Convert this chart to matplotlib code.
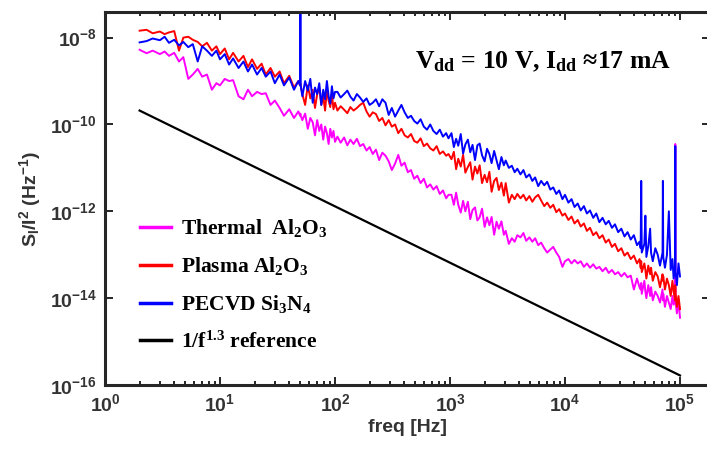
import numpy as np
import matplotlib
matplotlib.use('Agg')
import matplotlib.pyplot as plt
from matplotlib.ticker import LogLocator, NullLocator, NullFormatter

plt.rcParams['mathtext.default'] = 'regular'

# frequency grid [Hz]
freq = [2, 2.3, 2.6, 3, 3.3, 3.6, 4, 4.4, 4.8, 5.3, 5.8, 6.4, 7, 7.7, 8.5, 9.3,
        10, 11, 12, 13, 14.5, 16, 17.5, 19, 21, 23, 25, 27.5, 30, 33, 36, 40, 44, 48,
        49.7, 50, 50.3, 52, 55, 58, 61, 64, 67, 70, 73, 76, 79, 82, 85, 88, 91, 94, 97, 100,
        105, 112, 120, 128, 136, 145, 155, 165, 176, 188, 200, 213, 227, 242, 258, 275, 293, 312,
        333, 355, 378, 403, 430, 458, 488, 520, 555, 592, 631, 673, 717, 765, 815, 869, 926, 970,
        1030, 1080, 1130, 1180, 1240, 1300, 1360, 1430, 1500, 1570, 1650, 1730, 1810, 1900,
        2000, 2100, 2200, 2300, 2420, 2540, 2660, 2800, 2940, 3050,
        3250, 3450, 3650, 3850, 4100, 4350, 4600, 4900, 5200, 5500, 5850, 6200, 6600, 7000,
        7450, 7900, 8400, 8900, 9500, 10000, 10700, 11400, 12100, 12900, 13700, 14600, 15500,
        16500, 17600, 18700, 19900, 21200, 22600, 24000, 25600, 27200, 29000, 30900, 32900,
        35000, 37300, 39700, 42300, 44500,
        45500, 46000, 46500, 49000, 50000, 51000, 53000, 55000, 56000, 58000, 61000, 64000,
        67000, 70500, 71000, 71500, 74000, 77000, 80000, 83000, 86000, 88000, 90500, 91000,
        91500, 94000, 97000, 100000]

# log10(S_I/I^2)
thermal_log = [
    -8.28, -8.36, -8.30, -8.38, -8.32, -8.42, -8.35, -8.55, -8.45, -8.95, -8.85, -8.72, -8.90, -8.85, -9.20, -9.05,
    -9.10, -8.95, -9.00, -8.98, -9.35, -9.42, -9.20, -9.35, -9.25, -9.30, -9.28, -9.55, -9.45, -9.62, -9.80, -9.65, -9.85, -9.70,
    -9.80, -9.75, -9.80, -9.90, -9.75, -10.10, -9.85, -9.95, -10.25, -9.90, -10.15, -10.00, -10.35, -10.05, -10.20, -10.45, -10.10, -10.30, -10.15, -10.40,
    -10.28, -10.42, -10.30, -10.48, -10.35, -10.45, -10.33, -10.50, -10.45, -10.60, -10.52, -10.68, -10.58, -10.82, -10.65, -10.72, -10.85, -11.05,
    -10.90, -10.70, -10.95, -10.88, -11.10, -11.05, -11.25, -11.18, -11.35, -11.25, -11.45, -11.38, -11.50, -11.42, -11.60, -11.52, -11.70, -11.62,
    -11.62, -11.85, -11.57, -11.85, -12.03, -11.76, -12.00, -11.78, -12.18, -11.97, -11.91, -12.21, -12.14, -11.94,
    -12.36, -12.14, -12.32, -12.13, -12.54, -12.24, -12.40, -12.23, -12.54, -12.45,
    -12.75, -12.62, -12.70, -12.55, -12.60, -12.50, -12.68, -12.60, -12.70, -12.62, -12.78, -12.72, -12.85, -12.95,
    -12.88, -12.82, -12.95, -13.05, -13.28, -13.15, -13.10, -13.20, -13.12, -13.20, -13.15, -13.28, -13.20,
    -13.30, -13.22, -13.32, -13.28, -13.38, -13.30, -13.42, -13.35, -13.45, -13.40, -13.50, -13.42,
    -13.52, -13.48, -13.80, -13.55, -13.75,
    -13.80, -13.65, -13.90, -13.60, -13.85, -14.00, -13.70, -13.95, -13.75, -14.05, -13.85, -13.95,
    -14.10, -13.80, -14.05, -13.90, -14.20, -13.95, -14.10, -14.25, -13.95, -14.15, -14.00, -10.45,
    -14.10, -14.35, -14.05, -14.45]

plasma_log = [
    -7.84, -7.82, -7.90, -7.86, -7.92, -7.88, -7.85, -8.30, -8.00, -7.98, -8.05, -8.10, -8.20, -8.12, -8.30, -8.20,
    -8.38, -8.25, -8.50, -8.35, -8.55, -8.42, -8.68, -8.50, -8.72, -8.60, -8.85, -8.70, -8.90, -8.78, -9.05, -8.88, -9.15, -9.00,
    -9.10, -9.05, -9.10, -9.30, -9.55, -9.10, -9.40, -9.20, -9.62, -9.30, -9.15, -9.55, -9.35, -9.68, -9.20, -9.45, -9.60, -9.30, -9.65, -9.50,
    -9.68, -9.58, -9.66, -9.74, -9.60, -9.68, -9.62, -9.55, -9.50, -9.70, -9.82, -9.72, -9.76, -9.92, -9.85, -10.02, -9.90, -10.05,
    -10.00, -10.20, -10.10, -10.25, -10.30, -10.22, -10.38, -10.42, -10.32, -10.50, -10.44, -10.55, -10.60, -10.50, -10.68, -10.62, -10.72, -10.68,
    -10.80, -10.63, -11.03, -10.79, -10.97, -10.70, -11.11, -10.98, -10.87, -11.27, -10.97, -11.13, -10.94, -11.35,
    -11.16, -11.33, -11.09, -11.55, -11.30, -11.23, -11.51, -11.34, -11.64, -11.35,
    -11.80, -11.62, -11.72, -11.60, -11.70, -11.62, -11.75, -11.65, -11.78, -11.68, -11.62, -11.75, -11.88, -11.80,
    -11.92, -11.85, -12.02, -11.95, -12.10, -12.05, -12.20, -12.12, -12.28, -12.20, -12.35, -12.28, -12.45,
    -12.38, -12.55, -12.48, -12.62, -12.55, -12.72, -12.65, -12.82, -12.75, -12.92, -12.85, -13.02,
    -12.95, -13.10, -13.02, -13.20, -13.10,
    -13.30, -13.15, -13.40, -13.20, -13.35, -13.55, -13.25, -13.45, -13.30, -13.60, -13.40, -13.50,
    -13.75, -13.45, -13.60, -13.50, -13.80, -13.55, -13.70, -13.95, -13.60, -13.85, -14.05, -13.70,
    -13.90, -14.20, -13.95, -14.25]

pecvd_log = [
    -8.11, -8.08, -8.02, -8.06, -7.98, -8.12, -8.05, -8.18, -8.10, -8.22, -8.15, -8.55, -8.20, -8.30, -8.42, -8.30,
    -8.50, -8.38, -8.62, -8.48, -8.70, -8.55, -8.78, -8.62, -8.85, -8.70, -8.90, -8.78, -9.05, -8.85, -9.10, -8.92, -9.20, -9.00,
    -9.10, -7.00, -9.10, -9.35, -9.00, -9.22, -8.95, -9.50, -9.15, -9.30, -9.05, -9.55, -9.20, -9.42, -9.00, -9.35, -9.52, -9.12, -9.40, -9.25,
    -9.25, -9.38, -9.30, -9.22, -9.36, -9.45, -9.30, -9.38, -9.48, -9.40, -9.55, -9.50, -9.42, -9.58, -9.42, -9.50, -9.78, -9.62,
    -9.82, -9.68, -9.55, -9.72, -9.85, -9.80, -9.92, -9.98, -9.88, -10.05, -10.12, -10.00, -10.15, -10.22, -10.12, -10.28, -10.20, -10.32,
    -10.20, -10.52, -10.33, -10.49, -10.22, -10.67, -10.46, -10.35, -10.64, -10.47, -10.82, -10.48, -10.44, -10.71,
    -10.85, -10.56, -10.68, -10.89, -10.61, -10.83, -11.03, -10.75, -10.94, -10.83,
    -11.00, -10.95, -11.10, -11.02, -11.15, -11.05, -11.22, -11.15, -11.30, -11.22, -11.42, -11.30, -11.40, -11.32,
    -11.50, -11.45, -11.60, -11.52, -11.72, -11.62, -11.80, -11.72, -11.90, -11.82, -11.98, -11.88, -12.05,
    -11.98, -12.15, -12.05, -12.25, -12.15, -12.30, -12.22, -12.38, -12.30, -12.48, -12.40, -12.58,
    -12.48, -12.65, -12.55, -12.78, -12.70,
    -12.85, -11.30, -12.95, -12.75, -12.10, -13.05, -12.80, -12.40, -12.95, -13.15, -12.85, -13.00,
    -13.25, -12.95, -11.30, -13.05, -13.30, -13.00, -12.00, -13.35, -13.10, -13.55, -13.25, -10.50,
    -13.40, -13.70, -13.20, -13.50]

# 1/f^1.3 reference line end points
ref_freq = [2, 1e5]
ref_log = [-9.68, -15.78]

xticks = [1e0, 1e1, 1e2, 1e3, 1e4, 1e5]
yticks = [1e-16, 1e-14, 1e-12, 1e-10, 1e-8]

labels = ['Thermal  Al$_2$O$_3$', 'Plasma Al$_2$O$_3$', 'PECVD Si$_3$N$_4$', '1/f$^{1.3}$ reference']
colors = ['#ff00ff', '#ff0000', '#0000ff', 'black']

assert len(freq) == len(thermal_log) == len(plasma_log) == len(pecvd_log)

fig = plt.figure(figsize=(7.07, 4.55), dpi=100)
ax = fig.add_axes([105/707, 70/455, 605/707, 373/455])

for ys, c, lab in zip([thermal_log, plasma_log, pecvd_log], colors[:3], labels[:3]):
    ax.plot(freq, 10**np.array(ys), color=c, lw=1.4, label=lab)
ax.plot(ref_freq, 10**np.array(ref_log), color='black', lw=1.6, label=labels[3])

ax.set_xscale('log')
ax.set_yscale('log')
ax.set_xticks(xticks)
ax.set_yticks(yticks)
ax.xaxis.set_minor_locator(LogLocator(base=10, subs=np.arange(2, 10), numticks=20))
ax.xaxis.set_minor_formatter(NullFormatter())
ax.yaxis.set_minor_locator(NullLocator())
ax.set_xlim(1, 10**(605/115))
ax.set_ylim(1e-16, 10**-7.41)

spine_c = '#262626'
for s in ax.spines.values():
    s.set_linewidth(2.2)
    s.set_color(spine_c)
ax.spines['right'].set_visible(False)

ax.tick_params(which='both', direction='in', top=True, right=True, colors=spine_c,
               labelcolor='#333333', labelsize=14, width=1.4)
ax.tick_params(which='major', length=6, pad=6)
ax.tick_params(which='minor', length=3)
for t in ax.get_xticklabels() + ax.get_yticklabels():
    t.set_fontfamily('Liberation Sans')
    t.set_fontweight('bold')

ax.set_xlabel('freq [Hz]', fontsize=14, fontweight='bold', family='Liberation Sans',
              color='#333333', labelpad=3)
ax.set_ylabel('S$_I$/I$^2$ (Hz$^{-1}$)', fontsize=14, fontweight='bold',
              family='Liberation Sans', color='#333333', labelpad=5)

leg = ax.legend(loc='upper left', bbox_to_anchor=(0.058, 0.45), frameon=False,
                borderpad=0, borderaxespad=0, handlelength=1.45, handletextpad=0.45,
                labelspacing=0.75,
                prop={'family': 'Liberation Serif', 'weight': 'bold', 'size': 15.5})
for h in leg.get_lines():
    h.set_linewidth(2.5)

fig.text(543/707, (455-68)/455, 'V$_{dd}$ = 10 V, I$_{dd}$ \u224817 mA', ha='center',
         va='baseline', fontsize=18.5, fontweight='bold', family='Liberation Serif')

fig.savefig('out.png', dpi=100)
